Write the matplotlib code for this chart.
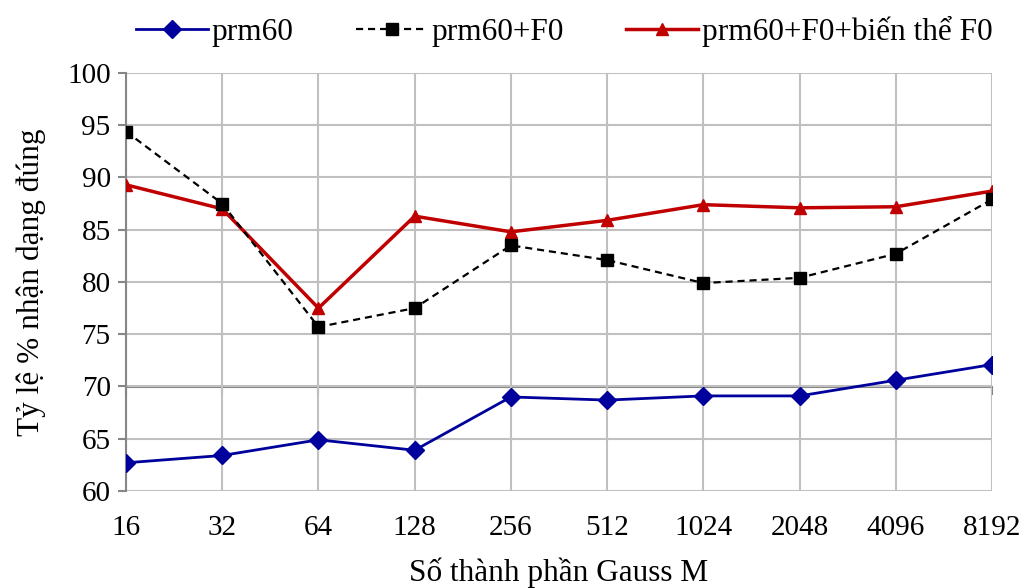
import matplotlib
matplotlib.use("Agg")
import matplotlib.pyplot as plt

# Number of Gaussian mixture components
categories = ["16", "32", "64", "128", "256", "512", "1024", "2048", "4096", "8192"]

# Recognition accuracy (%) for each feature set
prm60 = [62.7, 63.4, 64.9, 63.9, 69.0, 68.7, 69.1, 69.1, 70.6, 72.1]
prm60_f0 = [94.4, 87.5, 75.7, 77.5, 83.5, 82.1, 79.9, 80.4, 82.7, 87.9]
prm60_f0_var = [89.3, 87.0, 77.5, 86.3, 84.8, 85.9, 87.4, 87.1, 87.2, 88.7]

series_names = ["prm60", "prm60+F0", "prm60+F0+biến thể F0"]
y_ticks = [60, 65, 70, 75, 80, 85, 90, 95, 100]

plt.rcParams["font.family"] = ["Liberation Serif", "DejaVu Serif"]

fig = plt.figure(figsize=(10.24, 5.88), dpi=100)
ax = fig.add_axes([126 / 1024, 1 - 491 / 588, (992 - 126) / 1024, (491 - 73) / 588])

x = list(range(len(categories)))
grid_c = "#C0C0C0"
axis_c = "#868686"

ax.plot(x, prm60, color="#00009C", lw=2, marker="D", ms=9, label=series_names[0], zorder=3)
ax.plot(x, prm60_f0, color="black", lw=1.6, ls=(0, (3.2, 2.2)), marker="s", ms=8,
        label=series_names[1], zorder=4)
ax.plot(x, prm60_f0_var, color="#C00000", lw=2.5, marker="^", ms=8.5, label=series_names[2], zorder=3)

ax.set_xlim(0, len(categories) - 1)
ax.set_ylim(60, 100)
ax.set_xticks(x)
ax.set_xticklabels(categories)
ax.set_yticks(y_ticks)

ax.grid(True, color=grid_c, lw=1.5)
ax.set_axisbelow(True)
for s in ["top", "right", "bottom"]:
    ax.spines[s].set_visible(False)
ax.spines["left"].set_color(axis_c)
ax.spines["left"].set_linewidth(1.5)
ax.spines["left"].set_zorder(2.5)

ax.tick_params(axis="y", length=6, width=1.5, color=axis_c, labelsize=21, pad=5)
ax.tick_params(axis="x", length=0, labelsize=21, pad=17.5)

# Horizontal category axis crossing at 70
sec = ax.secondary_xaxis((70 - 60) / 40)
sec.set_xticks(x)
sec.set_xticklabels([""] * len(x))
sec.spines["bottom"].set_color(axis_c)
sec.spines["bottom"].set_linewidth(1.5)
sec.tick_params(axis="x", length=6, width=1.5, color=axis_c, direction="out")

ax.set_xlabel("Số thành phần Gauss M", fontsize=22.5, labelpad=12)
ax.set_ylabel("Tỷ lệ % nhận dạng đúng", fontsize=22.5, labelpad=15)

fig.legend(loc="upper center", bbox_to_anchor=(0.551, 1.01), ncol=3, frameon=False,
           fontsize=22.5, handlelength=2.3, columnspacing=2.0, handletextpad=0.12,
           borderaxespad=0.3)

fig.savefig("out.png", dpi=100)
